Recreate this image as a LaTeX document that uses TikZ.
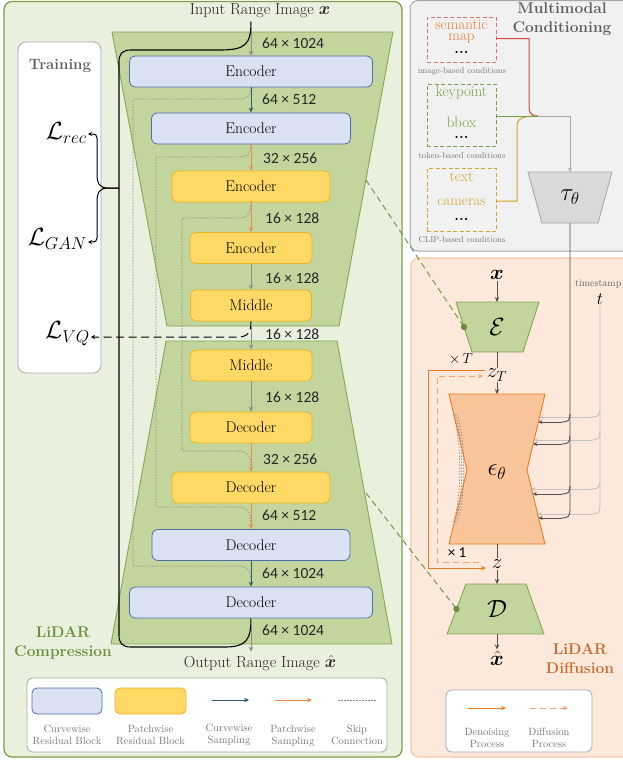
\documentclass[tikz,border=0pt]{standalone}
\usepackage{amsmath,bm}
\usepackage{fontspec}
\newfontfamily\carl{Carlito}
\usetikzlibrary{arrows.meta,calc}
\definecolor{gpanel}{HTML}{E9F0DE}
\definecolor{gborder}{HTML}{7E9E48}
\definecolor{trapfill}{HTML}{C2D59D}
\definecolor{trapdraw}{HTML}{86A751}
\definecolor{bfill}{HTML}{DAE1F3}
\definecolor{bdraw}{HTML}{4B6FAA}
\definecolor{yfill}{HTML}{FFD966}
\definecolor{ydraw}{HTML}{E9B41F}
\definecolor{cteal}{HTML}{2A5E6C}
\definecolor{corange}{HTML}{F08A4B}
\definecolor{cgray}{HTML}{8C8C8C}
\definecolor{skipc}{HTML}{8A8A8A}
\definecolor{txtgray}{HTML}{5F5F5F}
\definecolor{lidarg}{HTML}{6A913A}
\definecolor{lidaro}{HTML}{CD6B2C}
\definecolor{opanel}{HTML}{FCE9DC}
\definecolor{oborder}{HTML}{F6C7A4}
\definecolor{epsfill}{HTML}{F8C49A}
\definecolor{epsdraw}{HTML}{F07A1E}
\definecolor{lorange}{HTML}{F5A46A}
\definecolor{gypanel}{HTML}{F1F1F1}
\definecolor{gyborder}{HTML}{A8A8A8}
\definecolor{taufill}{HTML}{D9D9D9}
\definecolor{semc}{HTML}{E07070}
\definecolor{semt}{HTML}{E0803A}
\definecolor{kpc}{HTML}{78A048}
\definecolor{clipc}{HTML}{D2A531}
\definecolor{redl}{HTML}{D9453A}
\definecolor{goldl}{HTML}{D6A020}
\definecolor{darkl}{HTML}{505050}
\definecolor{lightl}{HTML}{C4C4C4}
\definecolor{capgray}{HTML}{777777}
\tikzset{
  blk/.style={rounded corners=6pt, line width=0.8pt, inner sep=0pt,
    font=\fontsize{15.5}{18}\selectfont, minimum height=31pt},
  cblk/.style={blk, fill=bfill, draw=bdraw},
  pblk/.style={blk, fill=yfill, draw=ydraw},
  arr/.style={line width=1pt, -{Stealth[length=5pt,width=4.5pt]}},
  garr/.style={arr, draw=cgray},
  tarr/.style={arr, draw=cteal},
  oarr/.style={arr, draw=corange},
  dim/.style={font=\carl\fontsize{15.5}{18}\selectfont, anchor=west, inner sep=0pt, text=black!85},
  skipl/.style={draw=skipc, line width=0.7pt, dash pattern=on 1.5pt off 1.5pt},
  bigm/.style={font=\fontsize{24}{28}\selectfont, inner sep=1pt},
  midm/.style={font=\fontsize{20}{24}\selectfont, inner sep=1pt},
  cbox/.style={line width=0.9pt, minimum width=69pt, inner sep=0pt, dash pattern=on 4pt off 2.5pt},
  ctext/.style={font=\fontsize{15}{17}\selectfont, inner sep=0pt},
  capt/.style={font=\fontsize{8.5}{10}\selectfont, text=capgray, inner sep=0pt},
  legt/.style={font=\fontsize{10.5}{12}\selectfont, text=capgray, align=center, inner sep=0pt},
  dk/.style={draw=darkl, line width=0.9pt},
  dkarr/.style={dk, -{Stealth[length=5pt,width=4.5pt]}},
  lt/.style={draw=lightl, line width=0.9pt},
  ltarr/.style={lt, -{Stealth[length=4pt,width=4pt]}},
  dkharr/.style={dk, -{Stealth[length=4pt,width=4pt]}},
  trap/.style={fill=trapfill, draw=trapdraw, line width=0.9pt},
  lossm/.style={anchor=east, inner sep=1pt, font=\fontsize{24}{28}\selectfont},
}
\begin{document}
\begin{tikzpicture}[x=1pt,y=-1pt]
\useasboundingbox (0,0) rectangle (623,761);
% ---------- panels ----------
\draw[fill=gpanel, draw=gborder, rounded corners=8pt, line width=1.3pt] (4,1.5) rectangle (402,757);
\draw[fill=gypanel, draw=gyborder, rounded corners=8pt, line width=1pt] (410,0.5) rectangle (640,251);
\draw[fill=opanel, draw=oborder, rounded corners=8pt, line width=1.2pt] (411,258) rectangle (640,757);

% ---------- training box ----------
\node[draw=gyborder, fill=white, rounded corners=8pt, minimum width=83pt, minimum height=331pt, line width=0.8pt] (trainbox) at (59.5,207.5) {};
\node[font=\bfseries\fontsize{15}{18}\selectfont, text=txtgray] (train) at (60,66) {Training};
\node[lossm] (lrec) at (88,133) {$\mathcal{L}_{rec}$};
\node[lossm] (lgan) at (88,239) {$\mathcal{L}_{GAN}$};
\node[lossm] (lvq) at (91,334) {$\mathcal{L}_{VQ}$};

% ---------- trapezoids ----------
\draw[trap] (112,32) -- (393,32) -- (339,326) -- (167,326) -- cycle;
\draw[trap] (166,341) -- (337,341) -- (392,644) -- (111,644) -- cycle;
\coordinate (encedge) at (366,180);
\coordinate (decedge) at (366,493);

% ---------- input / output ----------
\node[font=\fontsize{16}{18}\selectfont, text=black!85] (in) at (260,11) {Input Range Image $\bm{x}$};
\node[font=\fontsize{16}{18}\selectfont, text=black!85] (out) at (260,663) {Output Range Image $\hat{\bm{x}}$};

% ---------- blocks ----------
\node[cblk, minimum width=243pt] (enc1) at (251,71.5) {Encoder};
\node[cblk, minimum width=199pt] (enc2) at (251,128.5) {Encoder};
\node[pblk, minimum width=158pt] (enc3) at (251,186.5) {Encoder};
\node[pblk, minimum width=122pt] (enc4) at (251,248) {Encoder};
\node[pblk, minimum width=121pt] (mid1) at (251,305.5) {Middle};
\node[pblk, minimum width=122pt] (mid2) at (251,365.5) {Middle};
\node[pblk, minimum width=122pt] (dec1) at (251,427.5) {Decoder};
\node[pblk, minimum width=158pt] (dec2) at (251,487.5) {Decoder};
\node[cblk, minimum width=198pt] (dec3) at (251,545) {Decoder};
\node[cblk, minimum width=243pt] (dec4) at (251,602.5) {Decoder};

% ---------- skip connections ----------
\draw[skipl, rounded corners=2pt] (enc1.south) .. controls (251,96) and (247,99) .. (238,99) -- (133,99) -- (133,566) -- (238,566);
\draw[skipl] (238,566) .. controls (247,566) and (251,570) .. ([yshift=5pt]dec4.north);
\draw[skipl, rounded corners=2pt] (enc2.south) .. controls (251,154) and (247,157) .. (238,157) -- (156,157) -- (156,507) -- (238,507);
\draw[skipl] (238,507) .. controls (247,507) and (251,511) .. ([yshift=5pt]dec3.north);
\draw[skipl, rounded corners=2pt] (enc3.south) .. controls (251,214) and (247,218) .. (238,218) -- (182,218) -- (182,451) -- (238,451);
\draw[skipl] (238,451) .. controls (247,451) and (251,455) .. ([yshift=5pt]dec2.north);

% ---------- black training path ----------
\draw[line width=1.1pt] (enc1.north |- in.south) .. controls (251,44) and (246,50) .. (220,50) -- (131,50) .. controls (122,50) and (119,54) .. (119,62) -- (119,635) .. controls (119,643) and (122,647) .. (131,647) -- (225,647) .. controls (246,647) and (251,640) .. (dec4.south);
\coordinate (bj) at (119,188);
\draw[line width=1pt, -{Stealth[length=4pt,width=4pt]}] (bj) -- (108,188) .. controls (100,188) and (97,184) .. (97,174) -- (97,138) .. controls (97,135) and (96,134) .. (lrec.east |- 0,134);
\draw[line width=1pt, -{Stealth[length=4pt,width=4pt]}] (bj) -- (108,188) .. controls (100,188) and (97,192) .. (97,202) -- (97,238) .. controls (97,241) and (96,242) .. (lgan.east |- 0,242);
\draw[line width=1pt, dash pattern=on 8pt off 4.5pt, -{Stealth[length=4pt,width=4pt]}] (mid1.south) .. controls (251,332) and (248,337) .. (238,337) -- (lvq.east |- 0,337);

% ---------- main arrows ----------
\draw[garr] (enc1.north |- in.south) -- (enc1.north);
\draw[tarr] (enc1.south) -- (enc2.north);
\draw[oarr] (enc2.south) -- (enc3.north);
\draw[oarr] (enc3.south) -- (enc4.north);
\draw[garr] (enc4.south) -- (mid1.north);
\draw[garr] (mid1.south) -- (mid2.north);
\draw[garr] (mid2.south) -- (dec1.north);
\draw[oarr] (dec1.south) -- (dec2.north);
\draw[oarr] (dec2.south) -- (dec3.north);
\draw[tarr] (dec3.south) -- (dec4.north);
\draw[garr] (dec4.south) -- (out.north -| dec4.south);

% ---------- dimension labels ----------
\node[dim] at (262,43) {64 × 1024};
\node[dim] at (262,99) {64 × 512};
\node[dim] at (263,158) {32 × 256};
\node[dim] at (265,218) {16 × 128};
\node[dim] at (265,278) {16 × 128};
\node[dim] at (265,334) {16 × 128};
\node[dim] at (265,397) {16 × 128};
\node[dim] at (263,459) {32 × 256};
\node[dim] at (262,515) {64 × 512};
\node[dim] at (262,573) {64 × 1024};
\node[dim] at (262,630) {64 × 1024};

\node[font=\bfseries\fontsize{15.5}{18.5}\selectfont, text=lidarg, align=center] (lc) at (63,643) {LiDAR\\Compression};

% ---------- left legend ----------
\node[draw=gyborder, fill=white, rounded corners=6pt, minimum width=360pt, minimum height=74pt, line width=0.8pt] (leg) at (207,715) {};
\node[cblk, minimum width=70pt, minimum height=26pt, rounded corners=5pt] (lgb) at (67,701) {};
\node[pblk, minimum width=71pt, minimum height=26pt, rounded corners=5pt] (lgy) at (150.5,701) {};
\coordinate (la1) at (212,700); \coordinate (la2) at (249,700);
\coordinate (lb1) at (275,700); \coordinate (lb2) at (312,700);
\coordinate (lc1) at (338,700); \coordinate (lc2) at (376,700);
\draw[tarr] (la1) -- (la2);
\draw[oarr] (lb1) -- (lb2);
\draw[skipl] (lc1) -- (lc2);
\node[legt] at (67,735) {Curvewise\\Residual Block};
\node[legt] at (150.5,735) {Patchwise\\Residual Block};
\node[legt] at (229,735) {Curvewise\\Sampling};
\node[legt] at (293,736) {Patchwise\\Sampling};
\node[legt] at (357,735) {Skip\\Connection};

% ---------- multimodal conditioning ----------
\node[font=\bfseries\fontsize{15.5}{19}\selectfont, text=txtgray, align=center] (mmc) at (562,19) {Multimodal\\Conditioning};
\node[cbox, draw=semc, minimum height=45pt] (sem) at (461.5,39.5) {};
\node[ctext, text=semt] (semt1) at (461.5,25) {semantic};
\node[ctext, text=semt] (semt2) at (461.5,39) {map};
\node[ctext] (semt3) at (461.5,52) {\textbf{...}};
\node[capt] (semcap) at (462,71) {image-based conditions};
\node[cbox, draw=kpc, minimum height=62pt] (kp) at (461.5,115) {};
\node[ctext, text=kpc] (kpt1) at (461.5,93) {keypoint};
\node[ctext, text=kpc] (kpt2) at (461.5,122) {bbox};
\node[ctext] (kpt3) at (461.5,137) {\textbf{...}};
\node[capt] (kpcap) at (462,156) {token-based conditions};
\node[cbox, draw=clipc, minimum height=63pt] (clip) at (461.5,199.5) {};
\node[ctext, text=clipc] (clt1) at (461.5,177) {text};
\node[ctext, text=clipc] (clt2) at (461.5,202) {cameras};
\node[ctext] (clt3) at (461.5,219) {\textbf{...}};
\node[capt] (clcap) at (462,240) {CLIP-based conditions};

\coordinate (mj) at (538,116);
\draw[redl, line width=1pt] (sem.east |- 0,38.5) -- (529,38.5) -- (529,106) .. controls (529,113) and (531,116) .. (mj);
\draw[goldl, line width=1pt] (clip.east |- 0,201) -- (517,201) -- (517,127) .. controls (517,119) and (521,116) .. (mj);
\draw[kpc, line width=1pt] (kp.east |- mj) -- (mj);
\draw[fill=taufill, draw=gyborder, line width=0.9pt] (528,172) -- (612,172) -- (598,223) -- (542,223) -- cycle;
\coordinate (tautop) at (570,172);
\coordinate (taubot) at (570,223);
\node[bigm] (tau) at (570,197) {$\tau_\theta$};
\draw[draw=gyborder, line width=1pt, -{Stealth[length=4.5pt,width=4pt]}] (mj) -- (570,116) -- (tautop);

% ---------- diffusion ----------
\draw[trap] (456,302) -- (539,302) -- (523,352) -- (472,352) -- cycle;
\draw[trap] (466,584) -- (526,584) -- (544,634) -- (447,634) -- cycle;
\draw[fill=epsfill, draw=epsdraw, line width=0.9pt] (449,394) -- (545,394) -- (527,470) -- (545,544) -- (449,544) -- (467,470) -- cycle;
\coordinate (Etop) at (497,302); \coordinate (Ebot) at (497,352);
\coordinate (Dtop) at (497,584); \coordinate (Dbot) at (497,634);
\coordinate (etop) at (497,394); \coordinate (ebot) at (497,544);
\node[bigm] (E) at (497,327) {$\mathcal{E}$};
\node[bigm] (D) at (497,609) {$\mathcal{D}$};
\node[bigm] (eps) at (497,472) {$\epsilon_\theta$};
\foreach \d in {1,3,5} {
  \draw[skipl, line width=0.6pt] (452+\d,414) .. controls (461+\d,440) and (461+\d,500) .. (452+\d,522);
}
\node[midm] (xin) at (497,275) {$\bm{x}$};
\node[midm] (zT) at (497,375) {$z_T$};
\node[midm] (zz) at (497,564) {$z$};
\node[midm] (xhat) at (497,658) {$\hat{\bm{x}}$};
\draw[dkarr] (xin.south) -- (Etop);
\draw[dk] (Ebot) -- (zT.north);
\draw[dkarr] (zT.south) -- (etop);
\draw[dk] (ebot) -- (zz.north);
\draw[dkarr] (zz.south) -- (Dtop);
\draw[dkarr] (Dbot) -- (xhat.north);

% dashed links from compression to E / D
\coordinate (Edot) at (464,327);
\coordinate (Ddot) at (456.5,609);
\draw[lidarg, line width=0.9pt, dash pattern=on 6pt off 4pt] (encedge) -- (Edot);
\draw[lidarg, line width=0.9pt, dash pattern=on 6pt off 4pt] (decedge) -- (Ddot);
\fill[lidarg] (Edot) circle (3.2pt);
\fill[lidarg] (Ddot) circle (3.2pt);

% loops
\coordinate (lp1) at (485,370); \coordinate (lp2) at (486,568);
\coordinate (lq1) at (479,562); \coordinate (lq2) at (483,376);
\draw[epsdraw, line width=1pt, -{Stealth[length=5pt,width=4.5pt]}] (lp1) -- (428,370) -- (428,568) -- (lp2);
\draw[lorange, line width=1pt, dash pattern=on 6pt off 4pt, -{Stealth[length=5pt,width=4.5pt]}] (lq1) -- (437,562) -- (437,376) -- (lq2);
\node[font=\fontsize{14}{16}\selectfont, inner sep=0pt] (xT) at (461,359) {$\times\, T$};
\node[font=\carl\fontsize{15}{16}\selectfont, inner sep=0pt] (x1) at (457,553) {× 1};

% timestamp
\node[font=\fontsize{10}{12}\selectfont, text=txtgray, anchor=west, inner sep=0pt] (ts) at (575,284) {timestamp};
\node[font=\fontsize{17}{20}\selectfont, inner sep=1pt] (tt) at (600,299) {$t$};
\draw[lt] (tt.south) -- (600,506) .. controls (600,512) and (598,514) .. (592,514);
\draw[ltarr] (592,514) -- (537.7,514);
\foreach \yy/\xx in {417/539.6, 440/534.1, 489/531.6} {
  \draw[lt] (600,\yy-8) .. controls (600,\yy-2) and (598,\yy) .. (592,\yy);
  \draw[ltarr] (592,\yy) -- (\xx,\yy);
}
\draw[dk] (taubot) -- (570,510) .. controls (570,516) and (568,518) .. (562,518);
\draw[dkharr] (562,518) -- (538.7,518);
\foreach \yy/\xx in {422/538.4, 444/533.2, 494/532.8} {
  \draw[dk] (570,\yy-8) .. controls (570,\yy-2) and (568,\yy) .. (562,\yy);
  \draw[dkharr] (562,\yy) -- (\xx,\yy);
}

\node[font=\bfseries\fontsize{15.5}{19}\selectfont, text=lidaro, align=center] (ld) at (580,659) {LiDAR\\Diffusion};

% right legend
\node[draw=gyborder, fill=white, rounded corners=6pt, minimum width=146pt, minimum height=62pt, line width=0.8pt] (legr) at (519,721) {};
\coordinate (ra1) at (468,708); \coordinate (ra2) at (506,708);
\coordinate (rb1) at (530,708); \coordinate (rb2) at (568,708);
\draw[epsdraw, line width=1pt, -{Stealth[length=5pt,width=4.5pt]}] (ra1) -- (ra2);
\draw[lorange, line width=1pt, dash pattern=on 6pt off 4pt, -{Stealth[length=5pt,width=4.5pt]}] (rb1) -- (rb2);
\node[legt] at (487,738) {Denoising\\Process};
\node[legt] at (549,738) {Diffusion\\Process};
\end{tikzpicture}
\end{document}
